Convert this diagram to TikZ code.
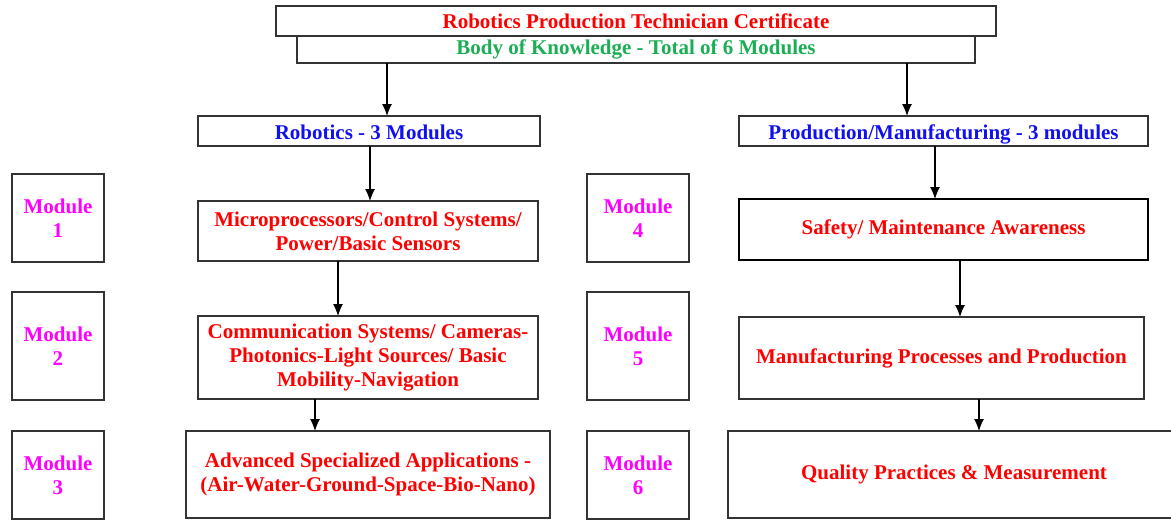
\documentclass[tikz,border=0pt]{standalone}
\usepackage{fontspec}
\setmainfont{Liberation Serif}
\usetikzlibrary{arrows.meta}
\definecolor{tred}{HTML}{FF0000}
\definecolor{tgreen}{HTML}{1BAE55}
\definecolor{tblue}{HTML}{1010F0}
\definecolor{tmag}{HTML}{FF00FF}
\definecolor{bline}{HTML}{333333}
\begin{document}
\begin{tikzpicture}[x=1pt,y=-1pt,
  box/.style={draw=bline,line width=1.4pt,fill=white,rectangle,inner sep=0pt,outer sep=0pt,anchor=north west,align=center,font=\fontsize{21}{24}\selectfont\bfseries},
  catbox/.style={box,text height=18pt,text depth=2pt},
  thick box/.style={box,draw=black,line width=2.8pt},
  arr/.style={draw=black,line width=1.2pt,-{Latex[length=12pt,width=10pt]}}
]
\useasboundingbox (0,0) rectangle (1171,520);
% top
\node[box,minimum width=720,minimum height=30,text=tred] (title) at (276,6) {Robotics Production Technician Certificate};
\node[box,minimum width=678,minimum height=27,text=tgreen] (body) at (297,36) {Body of Knowledge - Total of 6 Modules};
% category boxes
\node[catbox,minimum width=342,minimum height=30,text=tblue] (rob) at (198,116) {Robotics - 3 Modules};
\node[catbox,minimum width=409,minimum height=30,text=tblue] (prod) at (739,116) {Production/Manufacturing - 3 modules};
% module labels
\node[box,minimum width=92,minimum height=88,text=tmag] (m1) at (12,174) {Module\\1};
\node[box,minimum width=92,minimum height=108,text=tmag] (m2) at (12,292) {Module\\2};
\node[box,minimum width=92,minimum height=88,text=tmag] (m3) at (12,431) {Module\\3};
\node[box,minimum width=102,minimum height=88,text=tmag] (m4) at (587,174) {Module\\4};
\node[box,minimum width=102,minimum height=108,text=tmag] (m5) at (587,292) {Module\\5};
\node[box,minimum width=102,minimum height=88,text=tmag] (m6) at (587,431) {Module\\6};
% robotics column
\node[box,minimum width=340,minimum height=60,text=tred] (micro) at (198,201) {Microprocessors/Control Systems/\\Power/Basic Sensors};
\node[box,minimum width=340,minimum height=83,text=tred] (comm) at (198,316) {Communication Systems/ Cameras-\\Photonics-Light Sources/ Basic\\Mobility-Navigation};
\node[box,minimum width=364,minimum height=87,text=tred] (adv) at (186,431) {Advanced Specialized Applications -\\(Air-Water-Ground-Space-Bio-Nano)};
% production column
\node[thick box,minimum width=409,minimum height=61,text=tred] (safe) at (739,199) {Safety/ Maintenance Awareness};
\node[box,minimum width=405,minimum height=82,text=tred] (manu) at (739,317) {Manufacturing Processes and Production};
\node[box,minimum width=452,minimum height=87,text=tred] (qual) at (728,431) {Quality Practices \& Measurement};
% arrow x positions
\coordinate (x1) at (387,0);
\coordinate (x2) at (907,0);
\coordinate (x3) at (370,0);
\coordinate (x4) at (338,0);
\coordinate (x5) at (315,0);
\coordinate (x6) at (935,0);
\coordinate (x7) at (960,0);
\coordinate (x8) at (979,0);
\draw[arr] (body.south -| x1) -- (rob.north -| x1);
\draw[arr] (body.south -| x2) -- (prod.north -| x2);
\draw[arr] (rob.south -| x3) -- (micro.north -| x3);
\draw[arr] (micro.south -| x4) -- (comm.north -| x4);
\draw[arr] (comm.south -| x5) -- (adv.north -| x5);
\draw[arr] (prod.south -| x6) -- (safe.north -| x6);
\draw[arr] (safe.south -| x7) -- (manu.north -| x7);
\draw[arr] (manu.south -| x8) -- (qual.north -| x8);
\end{tikzpicture}
\end{document}
